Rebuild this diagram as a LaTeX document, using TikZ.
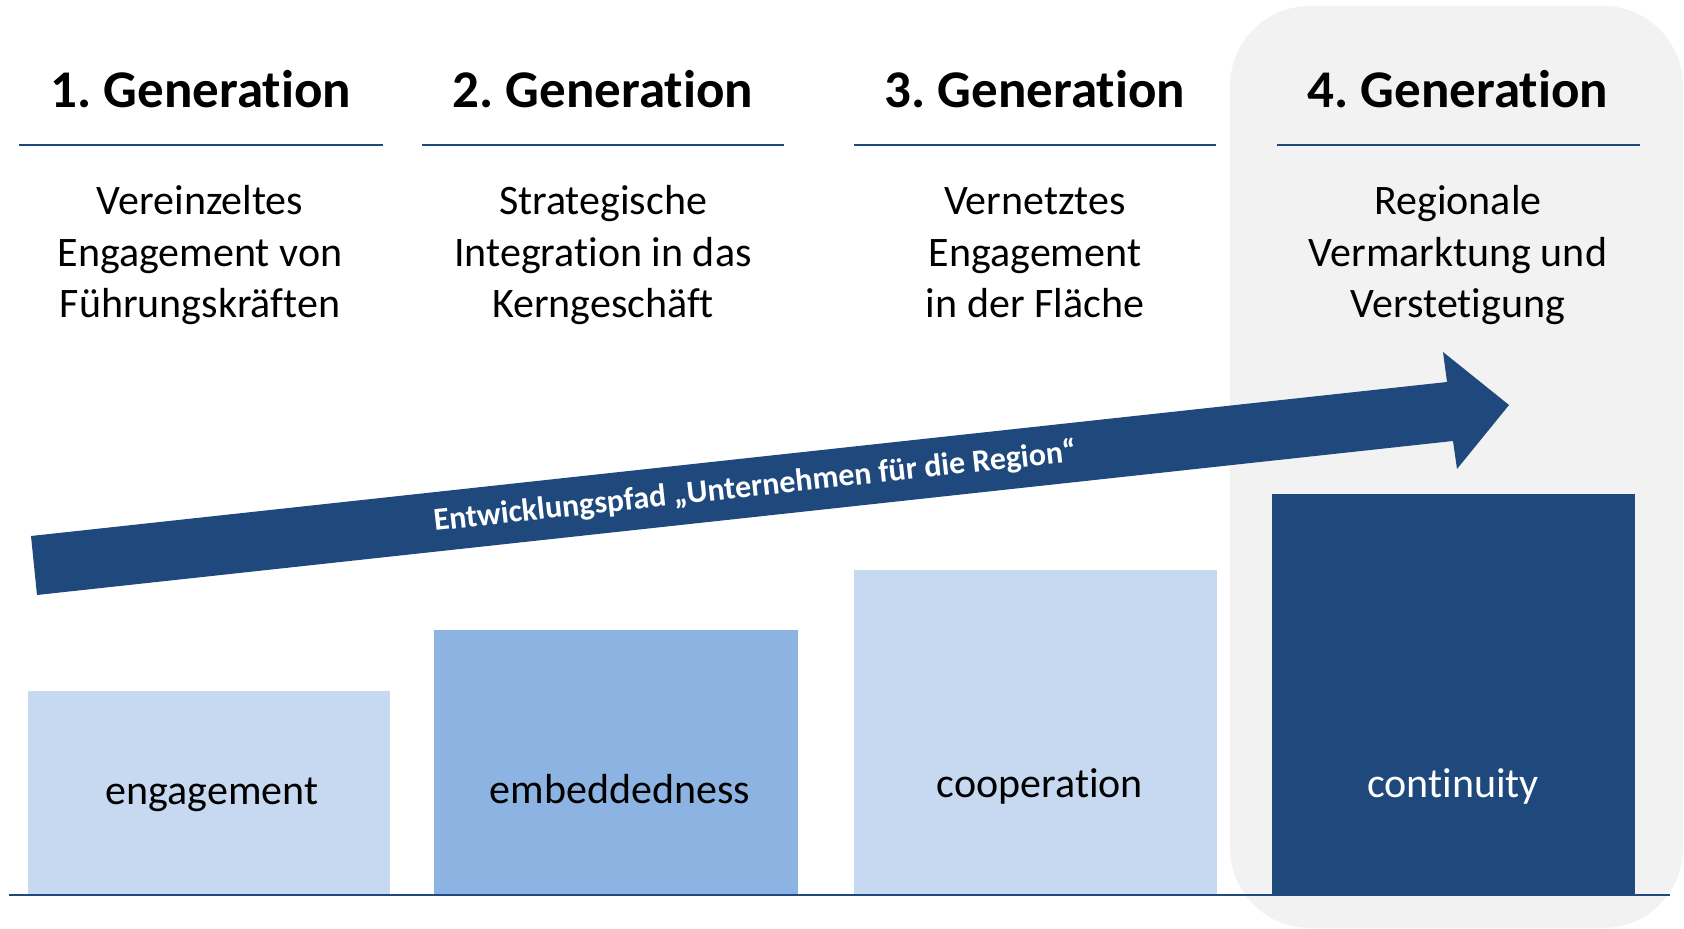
\documentclass[tikz,border=0pt]{standalone}
\usepackage{fontspec}
\setmainfont{Carlito}[RawFeature={-liga}]
\frenchspacing
\definecolor{dblue}{HTML}{1F497D}
\definecolor{lblue}{HTML}{C6D9F1}
\definecolor{mblue}{HTML}{8DB3E2}
\definecolor{bggray}{HTML}{F2F2F2}
\begin{document}
\begin{tikzpicture}[x=0.5pt,y=-0.5pt,
  head/.style={anchor=base,font=\fontsize{26.5}{32}\selectfont\bfseries,inner sep=0pt},
  desc/.style={anchor=base,align=center,font=\fontsize{21}{25.9}\selectfont,inner sep=0pt},
  lbl/.style={anchor=base,font=\fontsize{21}{25.75}\selectfont,inner sep=0pt},
  rule/.style={draw=dblue,line width=0.75pt},
  arrowtext/.style={font=\fontsize{16}{19}\selectfont\bfseries,text=white,rotate=6.21,inner sep=0pt}]
\useasboundingbox (0,0) rectangle (1684,929);
% highlighted column
\fill[bggray,rounded corners=40pt] (1230,6) rectangle (1683,928);
% headings
\node[head] (h1) at (201,108) {1. Generation};
\node[head] (h2) at (603,108) {2. Generation};
\node[head] (h3) at (1035,108) {3. Generation};
\node[head] (h4) at (1458,108) {4. Generation};
% rules
\draw[rule] (19,145) -- (383,145);
\draw[rule] (422,145) -- (784,145);
\draw[rule] (854,145) -- (1216,145);
\draw[rule] (1277,145) -- (1640,145);
% descriptions (base anchor = last line)
\node[desc] (d1) at (200,318) {Vereinzeltes\\Engagement von\\Führungskräften};
\node[desc] (d2) at (603,318) {Strategische\\Integration in das\\Kerngeschäft};
\node[desc] (d3) at (1035,318) {Vernetztes\\Engagement\\in der Fläche};
\node[desc] (d4) at (1458,318) {Regionale\\Vermarktung und\\Verstetigung};
% arrow
\fill[dblue] (31,536) -- (1447,382) -- (1443,352) -- (1509,405) -- (1457,469) -- (1453,441) -- (37,595) -- cycle;
\node[arrowtext] (at) at (755,487) {Entwicklungspfad „Unternehmen für die Region“};
% bars
\fill[lblue] (28,691) rectangle (390,895);
\fill[mblue] (434,630) rectangle (798,895);
\fill[lblue] (854,570) rectangle (1217,895);
\fill[dblue] (1272,494) rectangle (1635,895);
\node[lbl] (b1) at (212,804) {engagement};
\node[lbl] (b2) at (620,803) {embeddedness};
\node[lbl] (b3) at (1040,797) {cooperation};
\node[lbl,text=white] (b4) at (1453,797) {continuity};
% baseline
\draw[draw=dblue,line width=1pt] (9,895) -- (1670,895);
\end{tikzpicture}
\end{document}
